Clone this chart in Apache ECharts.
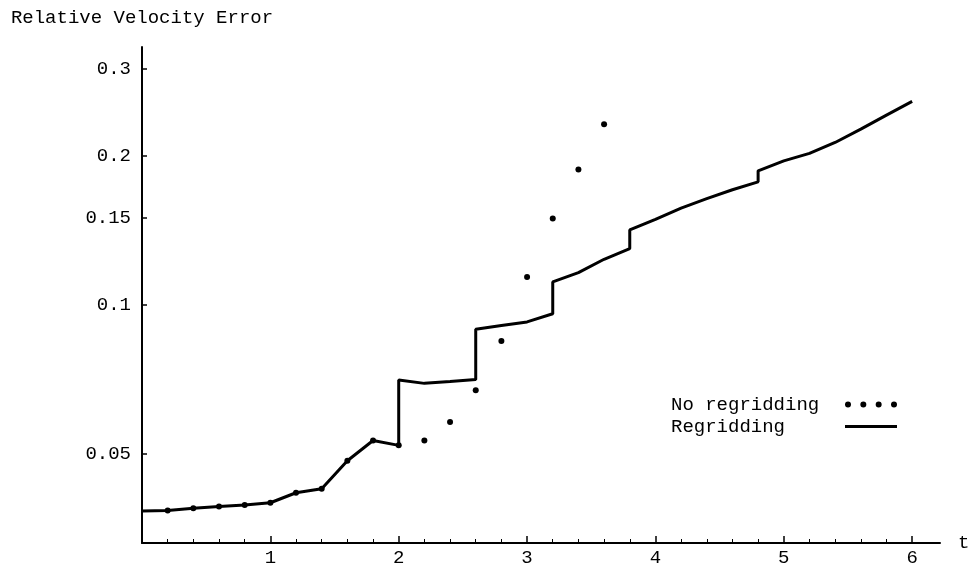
<!DOCTYPE html>
<html>
<head>
<meta charset="utf-8">
<title>Relative Velocity Error</title>
<script src="https://cdn.jsdelivr.net/npm/echarts@6.0.0/dist/echarts.min.js"></script>
<style>
  html, body { margin: 0; padding: 0; background: #fff; }
  #chart { width: 970px; height: 566px; }
</style>
</head>
<body>
<div id="chart"></div>
<script>
// Regridding: jumps are stored as two points at the same t
const regridT = [0, 0.2, 0.4, 0.6, 0.8, 1.0, 1.2, 1.4, 1.6, 1.8, 2.0, 2.0, 2.2, 2.4, 2.6, 2.6,
  2.8, 3.0, 3.2, 3.2, 3.4, 3.6, 3.8, 3.8, 4.0, 4.2, 4.4, 4.6, 4.8, 4.8, 5.0, 5.2, 5.4, 5.6, 5.8, 6.0];
const regridErr = [0.0383, 0.0384, 0.0388, 0.0391, 0.0394, 0.0398, 0.0417, 0.0425, 0.0484, 0.0532,
  0.0520, 0.0705, 0.0694, 0.0700, 0.0707, 0.0893, 0.0909, 0.0924, 0.0960, 0.1113, 0.1162, 0.1237,
  0.1300, 0.1418, 0.149, 0.157, 0.164, 0.171, 0.1774, 0.1867, 0.1956, 0.2025, 0.2131, 0.2267, 0.2420, 0.258];

// No regridding (dots)
const noRegridT = [0.2, 0.4, 0.6, 0.8, 1.0, 1.2, 1.4, 1.6, 1.8, 2.0, 2.2, 2.4, 2.6, 2.8, 3.0, 3.2, 3.4, 3.6];
const noRegridErr = [0.0384, 0.0388, 0.0391, 0.0394, 0.0398, 0.0417, 0.0425, 0.0484, 0.0532, 0.0520,
  0.0532, 0.0580, 0.0672, 0.0845, 0.1139, 0.1495, 0.1879, 0.2321];

// axis ticks
const xMajorTicks = [0, 1, 2, 3, 4, 5, 6];
const xTickLabels = [1, 2, 3, 4, 5, 6];
const xMinorTicks = [0.2, 0.4, 0.6, 0.8, 1.2, 1.4, 1.6, 1.8, 2.2, 2.4, 2.6, 2.8, 3.2, 3.4, 3.6, 3.8,
  4.2, 4.4, 4.6, 4.8, 5.2, 5.4, 5.6, 5.8];
const yTickValues = [0.05, 0.1, 0.15, 0.2, 0.3];
const yTickLabels = ['0.05', '0.1', '0.15', '0.2', '0.3'];

const FONT = 'Liberation Mono';
const FS = 19;

const chart = echarts.init(document.getElementById('chart'), null, { renderer: 'canvas' });

const pairs = (xs, ys) => xs.map((x, i) => [x, ys[i]]);

// legend icons, both drawn in a 52 x 6 box
const dotsIcon = 'path://M0,0M52,6' +
  'M0,3a3,3 0 1,0 6,0a3,3 0 1,0 -6,0Z' +
  'M15.33,3a3,3 0 1,0 6,0a3,3 0 1,0 -6,0Z' +
  'M30.67,3a3,3 0 1,0 6,0a3,3 0 1,0 -6,0Z' +
  'M46,3a3,3 0 1,0 6,0a3,3 0 1,0 -6,0Z';
const lineIcon = 'path://M0,0M52,6M0,1.5H52V4.5H0Z';

const xCommon = {
  type: 'value',
  position: 'bottom',
  min: 0,
  max: 6.217,
  splitLine: { show: false }
};

chart.setOption({
  animation: false,
  backgroundColor: '#fff',
  grid: {
    left: 142, right: 30, top: 47, bottom: 23,
    containLabel: false,
    outerBoundsMode: 'none'
  },
  legend: {
    orient: 'vertical',
    align: 'right',
    left: 671,
    top: 395,
    padding: 0,
    itemWidth: 52,
    itemHeight: 6,
    itemGap: 3,
    selectedMode: false,
    formatter: name => `{a|${name}}`,
    textStyle: {
      fontFamily: FONT, fontSize: FS, color: '#000',
      rich: { a: { width: 169, align: 'left', fontFamily: FONT, fontSize: FS, color: '#000' } }
    },
    data: [
      { name: 'No regridding', icon: dotsIcon, itemStyle: { color: '#000', opacity: 1 } },
      { name: 'Regridding', icon: lineIcon, itemStyle: { color: '#000', opacity: 1 } }
    ]
  },
  xAxis: [
    Object.assign({}, xCommon, {
      name: 't',
      nameLocation: 'end',
      nameGap: 18,
      nameTextStyle: { fontFamily: FONT, fontSize: FS, color: '#000' },
      interval: 0.2,
      axisLine: { lineStyle: { color: '#000', width: 2 } },
      axisTick: { inside: true, length: 4, customValues: xMinorTicks, lineStyle: { color: '#000', width: 1 } },
      axisLabel: { show: false }
    }),
    Object.assign({}, xCommon, {
      interval: 1,
      axisLine: { show: false },
      axisTick: { inside: true, length: 7, customValues: xMajorTicks, lineStyle: { color: '#000', width: 1.5 } },
      axisLabel: {
        customValues: xTickLabels,
        margin: 5,
        fontFamily: FONT, fontSize: FS, color: '#000'
      }
    })
  ],
  yAxis: {
    type: 'log',
    logBase: 10,
    min: 0.0330,
    max: 0.3324,
    name: 'Relative Velocity Error',
    nameLocation: 'end',
    nameGap: 20,
    nameTextStyle: { fontFamily: FONT, fontSize: FS, color: '#000', align: 'center' },
    splitLine: { show: false },
    minorTick: { show: false },
    axisLine: { show: true, lineStyle: { color: '#000', width: 2 } },
    axisTick: { inside: true, length: 5, customValues: yTickValues, lineStyle: { color: '#000', width: 1.5 } },
    axisLabel: {
      customValues: yTickValues,
      margin: 11,
      fontFamily: FONT, fontSize: FS, color: '#000',
      formatter: v => yTickLabels[yTickValues.findIndex(t => Math.abs(t - v) < 1e-6)] || ''
    }
  },
  series: [
    {
      name: 'No regridding',
      type: 'scatter',
      xAxisIndex: 0,
      symbol: 'circle',
      symbolSize: 6,
      itemStyle: { color: '#000', opacity: 1 },
      z: 3,
      data: pairs(noRegridT, noRegridErr)
    },
    {
      name: 'Regridding',
      type: 'line',
      xAxisIndex: 0,
      symbol: 'none',
      lineStyle: { color: '#000', width: 3 },
      itemStyle: { color: '#000' },
      z: 2,
      data: pairs(regridT, regridErr)
    }
  ]
});
</script>
</body>
</html>
